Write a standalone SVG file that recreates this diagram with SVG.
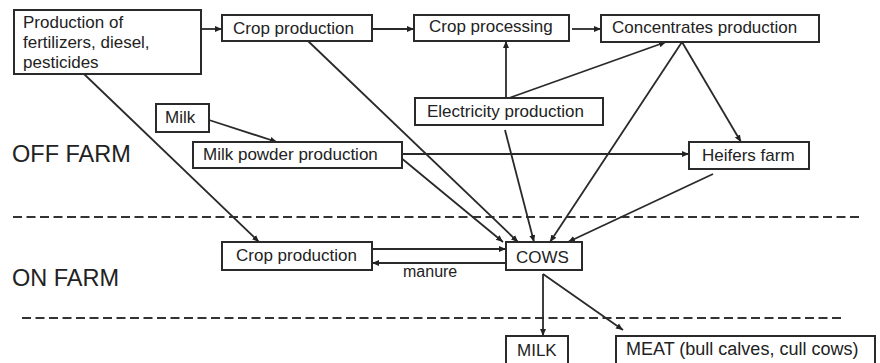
<svg xmlns="http://www.w3.org/2000/svg" width="880" height="363" viewBox="0 0 880 363">
<style>
.box{fill:#fff;stroke:#2a2a2a;stroke-width:2}
.t{font-family:"Liberation Sans",Arial,sans-serif;font-size:17px;fill:#222}
.big{font-family:"Liberation Sans",Arial,sans-serif;font-size:23.5px;fill:#222}
.sm{font-family:"Liberation Sans",Arial,sans-serif;font-size:16px;fill:#222}
.c{fill:none;stroke:#2a2a2a;stroke-width:1.8}
.dash{fill:none;stroke:#333;stroke-width:2;stroke-dasharray:9 4.5}
</style>
<defs>
<marker id="a" markerUnits="userSpaceOnUse" markerWidth="8" markerHeight="8" refX="7" refY="4" orient="auto">
<path d="M0,1 L7,4 L0,7 z" fill="#222"/>
</marker>
</defs>
<rect width="880" height="363" fill="#fff"/>
<line class="dash" x1="13" y1="217" x2="862" y2="217"/>
<line class="dash" x1="22" y1="318" x2="843" y2="318"/>
<text class="big" x="12" y="162">OFF FARM</text>
<text class="big" x="12" y="286">ON FARM</text>
<g id="connectors">
<line class="c" x1="201" y1="29" x2="222" y2="29" marker-end="url(#a)"/>
<line class="c" x1="372" y1="29" x2="414" y2="29" marker-end="url(#a)"/>
<line class="c" x1="572" y1="29" x2="601" y2="29" marker-end="url(#a)"/>
<line class="c" x1="506" y1="98" x2="506" y2="41" marker-end="url(#a)"/>
<line class="c" x1="509" y1="98" x2="666" y2="42" marker-end="url(#a)"/>
<line class="c" x1="682" y1="42" x2="741" y2="142" marker-end="url(#a)"/>
<line class="c" x1="682" y1="42" x2="550" y2="242" marker-end="url(#a)"/>
<line class="c" x1="209" y1="120" x2="277" y2="142" marker-end="url(#a)"/>
<line class="c" x1="402" y1="154" x2="689" y2="154" marker-end="url(#a)"/>
<line class="c" x1="400" y1="157" x2="503" y2="242" marker-end="url(#a)"/>
<line class="c" x1="308" y1="41" x2="518" y2="242" marker-end="url(#a)"/>
<line class="c" x1="84" y1="74" x2="259" y2="242" marker-end="url(#a)"/>
<line class="c" x1="505" y1="130" x2="534" y2="242" marker-end="url(#a)"/>
<line class="c" x1="713" y1="174" x2="568" y2="242" marker-end="url(#a)"/>
<line class="c" x1="372" y1="249" x2="506" y2="249" marker-end="url(#a)"/>
<line class="c" x1="506" y1="263" x2="372" y2="263" marker-end="url(#a)"/>
<line class="c" x1="543" y1="274" x2="543" y2="336" marker-end="url(#a)"/>
<line class="c" x1="543" y1="274" x2="623" y2="330" marker-end="url(#a)"/>
<text class="sm" x="403" y="277">manure</text>
</g>
<g id="fert"><rect class="box" x="14" y="10" width="187" height="64"/>
<text class="t" x="23" y="28">Production of</text><text class="t" x="23" y="48">fertilizers, diesel,</text><text class="t" x="23" y="68">pesticides</text></g>
<g id="crop-off"><rect class="box" x="222" y="15" width="150" height="26"/><text class="t" x="233" y="34">Crop production</text></g>
<g id="crop-proc"><rect class="box" x="414" y="15" width="155" height="26"/><text class="t" x="429" y="32">Crop processing</text></g>
<g id="conc"><rect class="box" x="601" y="15" width="218" height="27"/><text class="t" x="612" y="33">Concentrates production</text></g>
<g id="elec"><rect class="box" x="415" y="98" width="188" height="27"/><text class="t" x="427" y="117">Electricity production</text></g>
<g id="milk-in"><rect class="box" x="156" y="104" width="53" height="28"/><text class="t" x="165" y="123">Milk</text></g>
<g id="powder"><rect class="box" x="193" y="142" width="209" height="26"/><text class="t" x="203" y="160">Milk powder production</text></g>
<g id="heifers"><rect class="box" x="689" y="142" width="120" height="27"/><text class="t" x="702" y="161">Heifers farm</text></g>
<g id="crop-on"><rect class="box" x="222" y="242" width="150" height="28"/><text class="t" x="236" y="261">Crop production</text></g>
<g id="cows"><rect class="box" x="506" y="242" width="76" height="28"/><text class="t" x="516" y="263">COWS</text></g>
<g id="milk-out"><rect class="box" x="506" y="336" width="62" height="32"/><text class="t" x="517" y="356">MILK</text></g>
<g id="meat"><rect class="box" x="616" y="336" width="259" height="32"/><text class="t" x="626" y="355" style="font-size:18px">MEAT (bull calves, cull cows)</text></g>
</svg>
